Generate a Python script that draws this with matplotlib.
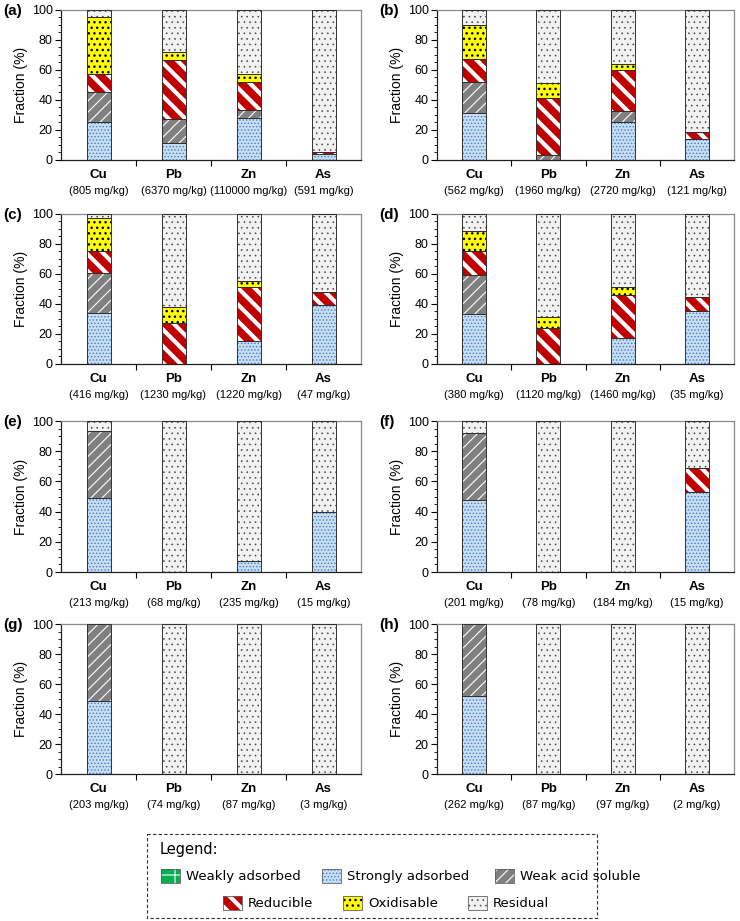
import numpy as np
import matplotlib.pyplot as plt
from matplotlib.patches import Rectangle

plt.rcParams['font.family'] = ['Liberation Sans', 'DejaVu Sans']

elements = ['Cu', 'Pb', 'Zn', 'As']
fractions = ['Weakly adsorbed', 'Strongly adsorbed', 'Weak acid soluble',
             'Reducible', 'Oxidisable', 'Residual']

# rows: weakly, strongly, weak acid, reducible, oxidisable, residual (%)
panel_a = [[0, 0, 0, 0],
           [25, 11, 28, 4],
           [20, 16.5, 5, 0],
           [12.5, 39, 19, 1.5],
           [37.5, 5.5, 5, 0],
           [5, 28, 43, 94.5]]
panel_b = [[0, 0, 0, 0],
           [31, 0, 25, 14],
           [21, 3, 7.5, 0],
           [15, 38.5, 27.5, 4.5],
           [23, 9.5, 4, 0],
           [10, 49, 36, 81.5]]
panel_c = [[0, 0, 0, 0],
           [34, 0, 15, 39],
           [26.5, 0, 0, 0],
           [14.5, 27.5, 36, 9],
           [22.5, 10.5, 4, 0],
           [2.5, 62, 45, 52]]
panel_d = [[0, 0, 0, 0],
           [33, 0, 17, 35],
           [26.5, 0, 0, 0],
           [15.5, 24, 29, 9.5],
           [13.5, 7, 5.5, 0],
           [11.5, 69, 48.5, 55.5]]
panel_e = [[0, 0, 0, 0],
           [49, 0, 7, 40],
           [44.5, 0, 0, 0],
           [0, 0, 0, 0],
           [0, 0, 0, 0],
           [6.5, 100, 93, 60]]
panel_f = [[0, 0, 0, 0],
           [47.5, 0, 0, 53],
           [44.5, 0, 0, 0],
           [0, 0, 0, 16],
           [0, 0, 0, 0],
           [8, 100, 100, 31]]
panel_g = [[0, 0, 0, 0],
           [49, 0, 0, 0],
           [51, 0, 0, 0],
           [0, 0, 0, 0],
           [0, 0, 0, 0],
           [0, 100, 100, 100]]
panel_h = [[0, 0, 0, 0],
           [52, 0, 0, 0],
           [48, 0, 0, 0],
           [0, 0, 0, 0],
           [0, 0, 0, 0],
           [0, 100, 100, 100]]

conc_a = [805, 6370, 110000, 591]
conc_b = [562, 1960, 2720, 121]
conc_c = [416, 1230, 1220, 47]
conc_d = [380, 1120, 1460, 35]
conc_e = [213, 68, 235, 15]
conc_f = [201, 78, 184, 15]
conc_g = [203, 74, 87, 3]
conc_h = [262, 87, 97, 2]

panels = [('(a)', panel_a, conc_a), ('(b)', panel_b, conc_b),
          ('(c)', panel_c, conc_c), ('(d)', panel_d, conc_d),
          ('(e)', panel_e, conc_e), ('(f)', panel_f, conc_f),
          ('(g)', panel_g, conc_g), ('(h)', panel_h, conc_h)]

# face colour, hatch, hatch colour, hatch linewidth
styles = [('#00B050', '+', 'white', 0.8),
          ('#C9DDF2', '.....', '#3D7FD0', 0.6),
          ('#808080', '///', 'white', 0.8),
          ('#C00000', '\\\\', 'white', 3.0),
          ('#FFFF00', '...', 'black', 1.0),
          ('#F2F2F2', '...', '#404040', 0.4)]

W, H = 740, 921
fig = plt.figure(figsize=(7.4, 9.21), dpi=100)

col_x = [(61, 361), (437, 734)]
row_y = [(10, 160), (214, 364), (421, 572), (624, 774)]


def px_axes(x0, x1, y0, y1):
    return fig.add_axes([x0 / W, 1 - y1 / H, (x1 - x0) / W, (y1 - y0) / H])


x = np.arange(len(elements))
bw = 0.32

for i, (lab, data, conc) in enumerate(panels):
    r, c = divmod(i, 2)
    ax = px_axes(col_x[c][0], col_x[c][1], row_y[r][0], row_y[r][1])
    bottom = np.zeros(len(elements))
    for k, vals in enumerate(data):
        vals = np.array(vals, dtype=float)
        fc, hatch, hc, hlw = styles[k]
        mask = vals > 0
        if mask.any():
            with plt.rc_context({'hatch.linewidth': hlw}):
                ax.bar(x[mask], vals[mask], bw, bottom=bottom[mask], color=fc,
                       hatch=hatch, edgecolor=hc, linewidth=0, zorder=2)
            ax.bar(x[mask], vals[mask], bw, bottom=bottom[mask], fill=False,
                   edgecolor='#303030', linewidth=0.7, zorder=3)
        bottom += vals

    ax.set_xlim(-0.5, 3.5)
    ax.set_ylim(0, 100)
    ax.set_xticks([0.5, 1.5, 2.5])
    ax.set_xticklabels([])
    ax.set_yticks(np.arange(0, 101, 20))
    ax.set_yticks(np.arange(0, 101, 5), minor=True)
    ax.tick_params(axis='both', direction='out', length=4, width=0.8,
                   labelsize=9, pad=2)
    ax.tick_params(axis='y', which='minor', length=2, width=0.6)
    for s in ['top', 'right']:
        ax.spines[s].set_color('#8a8a8a')
    for s in ['left', 'bottom']:
        ax.spines[s].set_color('#202020')
    for sp in ax.spines.values():
        sp.set_linewidth(0.9)
    ax.set_ylabel('Fraction (%)', fontsize=10, labelpad=3)

    tr = ax.get_xaxis_transform()
    for j, el in enumerate(elements):
        ax.text(x[j], -0.06, el, transform=tr, ha='center', va='top',
                fontsize=9.5, fontweight='bold')
        ax.text(x[j], -0.175, '(%d mg/kg)' % conc[j], transform=tr,
                ha='center', va='top', fontsize=8)

    fig.text((col_x[c][0] - 58) / W, 1 - (row_y[r][0] + 1) / H, lab,
             ha='left', va='center', fontsize=11, fontweight='bold')

# legend box
lax = fig.add_axes([0, 0, 1, 1])
lax.set_xlim(0, W)
lax.set_ylim(H, 0)
lax.axis('off')
lax.add_patch(Rectangle((147, 834), 450, 84, fill=False, edgecolor='#303030',
                        linewidth=0.8, linestyle=(0, (3, 2))))
lax.text(160, 849, 'Legend:', fontsize=10.5, ha='left', va='center',
         family=['DejaVu Sans'])

leg_pos = [(161, 876), (322, 876), (495, 876),
           (223, 903), (343, 903), (468, 903)]
for k, name in enumerate(fractions):
    fc, hatch, hc, hlw = styles[k]
    px, py = leg_pos[k]
    with plt.rc_context({'hatch.linewidth': hlw}):
        lax.add_patch(Rectangle((px, py - 7), 19, 14, facecolor=fc,
                                hatch=hatch, edgecolor=hc, linewidth=0))
    lax.add_patch(Rectangle((px, py - 7), 19, 14, fill=False,
                            edgecolor='#606060', linewidth=0.6))
    lax.text(px + 25, py, name, fontsize=9.5, ha='left', va='center',
             family=['DejaVu Sans'])

fig.savefig('out.png', dpi=100)
